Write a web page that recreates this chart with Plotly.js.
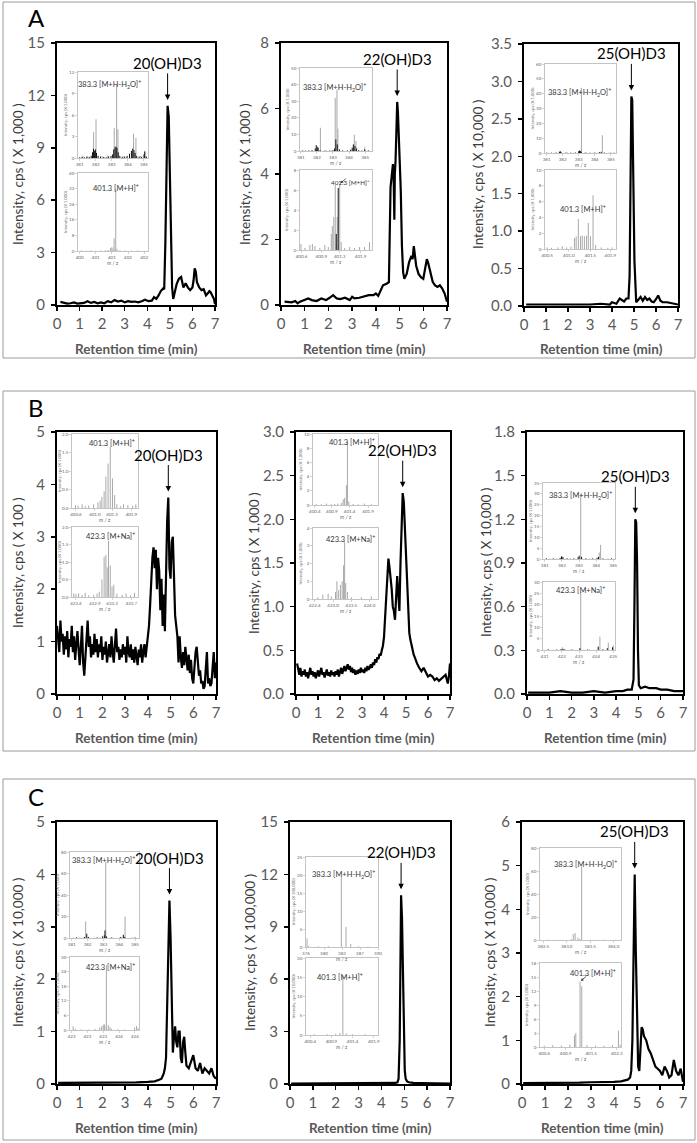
<!DOCTYPE html>
<html><head><meta charset="utf-8">
<script src="https://cdn.plot.ly/plotly-3.0.1.min.js"></script>
<style>html,body{margin:0;padding:0;background:#fff}#chart{width:697px;height:1143px}</style>
</head><body><div id="chart"></div>
<script>
// ---------- chromatogram data (retention time, intensity in axis units) ----------
const tA1=[0.15,0.3,0.45,0.6,0.75,0.9,1.05,1.2,1.35,1.5,1.65,1.8,1.95,2.1,2.25,2.4,2.55,2.7,2.85,3.0,3.15,3.3,3.45,3.6,3.75,3.9,4.05,4.2,4.3,4.4,4.5,4.6,4.7,4.75,4.8,4.85,4.9,4.95,5.0,5.05,5.1,5.15,5.2,5.3,5.4,5.5,5.55,5.6,5.7,5.8,5.9,6.0,6.05,6.1,6.15,6.2,6.3,6.4,6.5,6.6,6.7,6.75,6.8,6.9,6.95,7.0];
const yA1=[0.18,0.12,0.08,0.1,0.15,0.08,0.1,0.12,0.22,0.12,0.18,0.1,0.15,0.1,0.22,0.15,0.28,0.2,0.25,0.15,0.22,0.18,0.2,0.15,0.22,0.3,0.22,0.25,0.45,0.35,0.55,0.8,0.95,0.9,3.5,8.5,11.4,10.8,7.5,3.2,1.0,0.35,0.6,1.2,1.5,1.6,1.3,1.0,1.25,1.0,0.85,1.0,1.4,2.1,1.9,1.3,1.0,0.85,0.9,0.55,0.7,0.8,0.75,0.45,0.35,0.05];
const tA2=[0.15,0.3,0.45,0.6,0.7,0.8,1.0,1.15,1.3,1.5,1.7,1.9,2.05,2.2,2.35,2.5,2.7,2.9,3.0,3.1,3.3,3.5,3.7,3.9,4.0,4.1,4.2,4.3,4.45,4.55,4.62,4.68,4.72,4.75,4.78,4.8,4.83,4.87,4.9,4.93,4.97,5.0,5.05,5.1,5.15,5.2,5.3,5.4,5.5,5.55,5.6,5.65,5.7,5.8,5.9,6.0,6.1,6.15,6.2,6.3,6.4,6.5,6.6,6.7,6.8,6.9,6.95,7.0];
const yA2=[0.1,0.1,0.08,0.12,0.05,0.1,0.15,0.2,0.15,0.12,0.2,0.15,0.22,0.3,0.2,0.18,0.22,0.15,0.25,0.2,0.22,0.25,0.3,0.3,0.35,0.28,0.45,0.6,0.65,0.7,3.6,4.2,4.3,3.9,2.6,4.0,4.4,5.4,6.2,5.9,5.1,4.9,3.5,1.8,1.0,0.8,0.95,1.3,1.5,1.4,1.8,1.5,1.2,0.95,0.85,0.8,1.2,1.4,1.3,1.0,0.7,0.6,0.55,0.6,0.5,0.35,0.25,0.1];
const tA3=[0.1,0.5,1.0,1.5,2.0,2.5,3.0,3.5,3.9,4.0,4.1,4.2,4.35,4.45,4.55,4.65,4.75,4.8,4.85,4.88,4.92,4.97,5.02,5.1,5.2,5.3,5.4,5.5,5.6,5.7,5.8,5.9,6.0,6.1,6.2,6.3,6.5,6.7,6.9,7.0];
const yA3=[0.02,0.02,0.02,0.02,0.01,0.02,0.02,0.03,0.02,0.05,0.04,0.03,0.1,0.08,0.06,0.1,0.1,0.4,1.8,2.8,2.75,1.8,0.6,0.05,0.08,0.12,0.07,0.12,0.08,0.1,0.06,0.05,0.09,0.14,0.07,0.05,0.05,0.04,0.03,0.02];
const tB1=[0,0.05,0.1,0.15,0.2,0.25,0.3,0.35,0.4,0.45,0.5,0.55,0.6,0.65,0.7,0.75,0.8,0.85,0.9,0.95,1.0,1.05,1.1,1.15,1.2,1.25,1.3,1.35,1.4,1.45,1.5,1.55,1.6,1.65,1.7,1.75,1.8,1.85,1.9,1.95,2.0,2.05,2.1,2.15,2.2,2.25,2.3,2.35,2.4,2.45,2.5,2.55,2.6,2.65,2.7,2.75,2.8,2.85,2.9,2.95,3.0,3.05,3.1,3.15,3.2,3.25,3.3,3.35,3.4,3.45,3.5,3.55,3.6,3.65,3.7,3.75,3.8,3.85,3.9,3.95,4.0,4.05,4.1,4.15,4.2,4.25,4.3,4.35,4.4,4.45,4.5,4.55,4.6,4.65,4.7,4.75,4.8,4.85,4.9,4.95,5.0,5.05,5.1,5.15,5.2,5.25,5.3,5.35,5.4,5.45,5.5,5.55,5.6,5.65,5.7,5.75,5.8,5.85,5.9,5.95,6.0,6.05,6.1,6.15,6.2,6.25,6.3,6.35,6.4,6.45,6.5,6.55,6.6,6.65,6.7,6.75,6.8,6.85,6.9,6.95,7.0];
const yB1=[1.30,1.05,0.80,1.40,1.00,1.15,0.75,1.10,0.85,1.20,0.70,1.05,0.90,1.30,0.80,1.10,0.65,0.95,1.20,0.85,
0.55,0.90,1.30,0.60,0.35,0.70,1.00,1.40,0.90,1.10,0.70,0.95,0.75,1.15,0.80,1.05,0.70,0.95,0.80,1.10,
0.65,0.90,0.75,1.00,0.60,0.85,0.95,0.70,1.10,0.80,0.60,0.95,1.25,0.80,0.90,0.65,0.85,0.70,0.95,0.75,
0.90,0.60,1.10,0.80,0.70,0.95,0.65,0.85,0.60,0.90,0.75,0.55,0.85,0.70,0.95,0.60,0.80,0.95,0.70,0.90,
1.10,1.30,1.70,2.20,2.60,2.80,2.40,2.75,2.00,2.60,2.35,1.60,2.20,1.30,1.90,1.20,2.30,3.30,3.75,2.40,
2.20,2.90,3.00,2.20,1.50,1.30,1.10,0.60,1.10,0.70,0.50,0.80,0.55,0.90,0.60,0.45,0.75,0.40,0.65,0.30,
0.20,0.55,0.80,0.90,0.50,0.35,0.45,0.20,0.25,0.10,0.15,0.45,0.80,0.20,0.30,0.15,0.20,0.50,0.80,0.30,0.60];
const tB2=[0.05,0.1,0.15,0.2,0.25,0.3,0.35,0.4,0.45,0.5,0.55,0.6,0.65,0.7,0.75,0.8,0.85,0.9,0.95,1.0,1.05,1.1,1.15,1.2,1.25,1.3,1.35,1.4,1.45,1.5,1.55,1.6,1.65,1.7,1.75,1.8,1.85,1.9,1.95,2.0,2.05,2.1,2.15,2.2,2.25,2.3,2.35,2.4,2.45,2.5,2.55,2.6,2.65,2.7,2.75,2.8,2.85,2.9,2.95,3.0,3.05,3.1,3.15,3.2,3.25,3.3,3.35,3.4,3.45,3.5,3.55,3.6,3.65,3.7,3.75,3.8,3.85,3.9,3.95,4.0,4.05,4.1,4.15,4.2,4.25,4.3,4.35,4.4,4.45,4.5,4.55,4.6,4.65,4.7,4.75,4.8,4.85,4.9,4.95,5.0,5.05,5.1,5.15,5.2,5.25,5.3,5.35,5.4,5.45,5.5,5.6,5.7,5.8,5.9,6.0,6.1,6.2,6.3,6.4,6.5,6.6,6.7,6.8,6.9,6.95,7.0];
const yB2=[0.35,0.28,0.22,0.3,0.2,0.26,0.22,0.28,0.2,0.25,0.18,0.24,0.3,0.22,0.26,0.2,0.25,0.18,0.22,0.27,
0.2,0.24,0.3,0.22,0.25,0.19,0.24,0.28,0.21,0.25,0.2,0.27,0.22,0.25,0.2,0.26,0.22,0.28,0.2,0.25,
0.3,0.23,0.28,0.32,0.26,0.3,0.34,0.28,0.32,0.25,0.3,0.24,0.28,0.22,0.27,0.23,0.28,0.24,0.3,0.25,
0.28,0.24,0.3,0.26,0.32,0.28,0.3,0.34,0.3,0.36,0.33,0.4,0.36,0.42,0.4,0.46,0.44,0.5,0.55,0.65,
0.9,1.2,1.45,1.55,1.45,1.35,1.2,1.0,0.95,0.85,1.2,1.35,1.15,0.95,1.5,2.1,2.3,2.2,1.9,1.6,
1.2,0.85,0.7,0.62,0.55,0.5,0.45,0.42,0.38,0.35,0.3,0.26,0.3,0.24,0.2,0.22,0.2,0.16,0.18,0.15,
0.17,0.2,0.22,0.12,0.2,0.35];
const tB3=[0.05,0.5,1.0,1.5,2.0,2.5,3.0,3.5,4.0,4.3,4.5,4.7,4.78,4.82,4.86,4.9,4.94,4.98,5.02,5.1,5.3,5.5,5.8,6.0,6.3,6.6,7.0];
const yB3=[0.01,0.01,0.01,0.02,0.01,0.01,0.02,0.01,0.02,0.02,0.03,0.03,0.1,0.6,1.2,1.18,0.9,0.3,0.06,0.04,0.05,0.04,0.04,0.03,0.03,0.02,0.02];
const tC1=[0.05,0.5,1.0,1.5,2.0,2.5,3.0,3.5,4.0,4.3,4.5,4.6,4.7,4.75,4.8,4.85,4.9,4.95,5.0,5.05,5.1,5.15,5.2,5.25,5.3,5.35,5.4,5.45,5.5,5.55,5.6,5.65,5.7,5.8,5.9,6.0,6.1,6.2,6.3,6.4,6.5,6.6,6.7,6.8,6.9,7.0];
const yC1=[0.02,0.02,0.03,0.02,0.03,0.02,0.03,0.03,0.04,0.05,0.08,0.1,0.2,0.3,0.5,1.5,3.0,3.5,2.8,1.5,0.6,0.9,1.1,0.8,0.7,1.0,1.0,0.5,0.4,0.8,0.9,0.6,0.35,0.3,0.45,0.55,0.3,0.25,0.4,0.2,0.3,0.25,0.2,0.3,0.15,0.1];
const tC2=[0.05,0.5,1.0,1.5,2.0,2.5,3.0,3.5,4.0,4.4,4.6,4.7,4.75,4.8,4.83,4.86,4.9,4.94,4.98,5.02,5.06,5.12,5.2,5.4,5.7,6.0,6.5,7.0];
const yC2=[0.02,0.02,0.02,0.02,0.02,0.02,0.02,0.02,0.03,0.04,0.06,0.1,0.3,2.5,8.0,10.8,9.5,6.0,2.5,0.8,0.3,0.15,0.1,0.06,0.05,0.04,0.03,0.03];
const tC3=[0.05,0.5,1.0,1.5,2.0,2.5,3.0,3.5,4.0,4.3,4.5,4.6,4.7,4.75,4.8,4.85,4.9,4.95,5.0,5.05,5.1,5.15,5.2,5.25,5.3,5.4,5.5,5.6,5.7,5.8,5.9,6.0,6.1,6.2,6.3,6.4,6.5,6.6,6.7,6.8,6.9,7.0];
const yC3=[0.02,0.02,0.03,0.02,0.03,0.03,0.04,0.04,0.05,0.06,0.08,0.1,0.15,0.3,1.0,3.5,4.8,3.0,1.2,0.4,0.3,0.7,1.3,1.25,1.1,1.0,0.8,0.7,0.55,0.4,0.35,0.3,0.2,0.4,0.3,0.15,0.2,0.55,0.3,0.2,0.35,0.05];

// ---------- labels ----------
const compounds=['20(OH)D3','22(OH)D3','25(OH)D3'];
const yTitles=['Intensity, cps ( X 1,000 )','Intensity, cps ( X 1,000 )','Intensity, cps ( X 10,000 )',
 'Intensity, cps ( X 100 )','Intensity, cps ( X 1,000 )','Intensity, cps ( X 10,000 )',
 'Intensity, cps ( X 10,000 )','Intensity, cps ( X 100,000 )','Intensity, cps ( X 10,000 )'];
const xTitle='Retention time (min)';
const panelLetters=['A','B','C'];
const ION_H2O='383.3 [M+H-H<sub>2</sub>O]<sup>+</sup>', ION_H='401.3 [M+H]<sup>+</sup>', ION_NA='423.3 [M+Na]<sup>+</sup>';
const insetYT='Intensity, cps (X 1,000)', insetYT100k='Intensity, cps (X 100,000)', insetYT10k='Intensity, cps (X 10,000)';

// ---------- inset mass spectra (m/z, intensity) ----------
const mzA1aG=[381.2,381.5,381.87,382.02,382.4,382.75,383.15,383.3,383.38,383.7,384.35,384.5,384.8,385.05];
const inA1aG=[0.3,0.2,3.6,5.4,0.3,0.4,4.2,10.3,4.0,0.3,3.4,2.8,0.3,1.0];
const mzA1aB=[381.0,381.15,381.3,381.45,381.6,381.72,381.8,381.86,381.92,381.98,382.05,382.15,382.3,382.5,382.65,382.8,382.95,383.05,383.12,383.2,383.26,383.32,383.4,383.5,383.65,383.8,383.95,384.1,384.22,384.3,384.38,384.45,384.55,384.7,384.85,385.0,385.05,385.15];
const inA1aB=[0.1,0.15,0.1,0.2,0.15,0.3,0.8,1.3,1.0,1.2,0.7,0.3,0.2,0.15,0.1,0.2,0.3,0.5,1.2,1.5,1.6,1.4,0.8,0.3,0.15,0.2,0.3,0.6,1.0,1.3,1.1,0.7,0.3,0.2,0.15,0.5,0.9,0.2];
const mzA1bG=[400.05,400.2,400.35,400.5,400.65,400.8,400.88,400.96,401.0,401.04,401.07,401.12,401.16,401.25,401.4,401.6,401.8,402.0];
const inA1bG=[0.3,0.2,0.4,0.2,0.3,0.4,0.5,1.5,2.0,1.2,6.5,32,1.0,0.4,0.3,0.2,0.3,0.2];
const mzA2aG=[381.2,381.5,381.96,382.22,382.6,382.9,383.14,383.25,383.31,383.6,383.9,384.33,384.43,384.98,385.2];
const inA2aG=[0.3,0.2,0.8,14,0.3,0.4,32,37,13.5,0.3,0.4,9.8,6,2.5,0.3];
const mzA2aB=[381.1,381.3,381.5,381.7,381.9,381.96,382.02,382.08,382.2,382.5,382.8,383.0,383.1,383.18,383.27,383.4,383.6,383.9,384.1,384.2,384.27,384.37,384.47,384.6,384.8,384.98,385.2];
const inA2aB=[0.3,0.2,0.3,0.5,1.5,3.5,2.5,2.0,0.5,0.3,0.3,0.5,1.5,7,4,1.0,0.3,0.3,0.8,2.0,4,3,1.5,0.5,0.3,1.0,0.3];
const mzA2bG=[400.57,400.65,400.75,400.8,400.85,400.95,401.05,401.12,401.18,401.2,401.23,401.26,401.3,401.35,401.38,401.45,401.55,401.65,401.75,401.85,401.95];
const inA2bG=[0.6,0.2,0.5,0.6,0.4,0.2,0.5,0.3,1.6,2.4,3.3,6.5,3.3,6.6,0.8,0.2,0.3,0.2,0.3,0.3,0.8];
const mzA2bB=[401.28,401.32];
const inA2bB=[1.6,6.2];
const mzA3aG=[381.1,381.5,381.85,382.3,382.7,383.0,383.17,383.5,383.9,384.2,384.47,384.9];
const inA3aG=[0.2,0.2,0.8,0.3,0.2,0.4,44,0.3,0.2,0.3,12,0.2];
const mzA3aB=[381.0,381.3,381.6,381.8,381.85,381.9,382.2,382.5,382.8,383.0,383.05,383.1,383.15,383.4,383.7,384.0,384.3,384.4,384.6,385.0,385.2];
const inA3aB=[0.2,0.2,0.3,0.8,1.2,0.6,0.3,0.2,0.3,1.2,1.6,1.4,0.8,0.3,0.2,0.3,0.6,0.8,0.3,0.2,0.2];
const mzA3bG=[400.5,400.6,400.75,400.85,400.95,401.05,401.13,401.17,401.22,401.27,401.31,401.36,401.41,401.45,401.5,401.56,401.62,401.75,401.9,402.0];
const inA3bG=[0.2,0.15,0.2,0.35,0.2,0.3,1.4,1.6,3.8,1.6,1.7,1.6,1.7,3.3,1.6,6.8,0.5,0.2,0.15,0.2];
const mzB1aG=[400.58,400.64,400.73,400.8,400.88,400.99,401.09,401.14,401.18,401.23,401.27,401.32,401.37,401.42,401.47,401.52,401.6,401.67,401.77,401.88,401.95];
const inB1aG=[0.08,0.06,0.1,0.05,0.07,0.1,0.15,0.2,0.3,0.45,0.85,1.2,1.65,0.8,0.35,0.1,0.05,0.1,0.08,0.06,0.1];
const mzB1bG=[422.34,422.39,422.45,422.53,422.6,422.68,422.79,422.87,422.92,422.98,423.03,423.07,423.1,423.13,423.17,423.21,423.25,423.32,423.44,423.53,423.63,423.72];
const inB1bG=[0.1,0.08,0.1,0.06,0.12,0.05,0.06,0.1,0.15,0.5,1.15,1.2,0.85,1.6,0.9,0.3,0.35,0.1,0.06,0.1,0.05,0.12];
const mzB2aG=[400.44,400.58,400.73,400.87,400.96,401.05,401.15,401.2,401.24,401.29,401.32,401.36,401.48,401.62,401.8,401.99];
const inB2aG=[0.15,0.1,0.2,0.1,0.15,0.2,0.3,0.8,1.0,2.8,9.0,0.5,0.15,0.1,0.2,0.1];
const mzB2bG=[422.49,422.63,422.78,422.87,422.99,423.03,423.08,423.13,423.18,423.22,423.25,423.28,423.33,423.44,423.73,424.01];
const inB2bG=[0.1,0.25,0.3,0.15,0.4,1.0,0.5,0.8,1.0,1.9,3.2,0.9,0.4,0.1,0.1,0.15];
const mzB3aG=[381.3,381.7,382.03,382.5,383.1,383.6,384.18,384.26,384.7];
const inB3aG=[0.2,0.2,1.2,0.3,29.9,0.2,3.0,6.5,0.3];
const mzB3aB=[381.1,381.5,381.9,381.98,382.07,382.3,382.7,382.95,383.01,383.15,383.4,383.8,384.05,384.14,384.4,384.9];
const inB3aB=[0.3,0.3,0.5,1.2,0.8,0.3,0.3,0.8,1.5,1.0,0.3,0.3,0.6,1.0,0.3,0.3];
const mzB3bG=[421.5,422.03,422.5,423.1,423.6,424.22,424.71,425.0];
const inB3bG=[0.2,1.2,0.2,25.6,0.2,5.9,3.3,2.0];
const mzB3bB=[421.2,421.7,421.95,422.07,422.17,422.6,423.05,423.5,424.12,424.4,424.65,424.96];
const inB3bB=[0.3,0.2,0.4,0.5,0.3,0.2,0.8,0.2,1.5,0.3,0.8,1.2];
const mzC1aG=[381.1,381.5,381.88,382.4,382.8,383.15,383.6,384.0,384.37,384.8];
const inC1aG=[0.5,0.4,15.4,0.4,0.5,70.8,0.5,0.4,20,0.5];
const mzC1aB=[381.3,381.8,381.95,382.05,382.6,382.95,383.06,383.1,383.2,383.5,384.1,384.26,384.35,385.0];
const inC1aB=[0.6,1.0,4,1.0,0.5,1.5,2.5,7,1.5,0.5,1.0,3,1.0,0.5];
const mzC1bG=[422.05,422.12,422.3,422.53,422.74,422.89,422.95,423.0,423.03,423.05,423.1,423.16,423.21,423.26,423.47,423.68,423.99,424.05,424.1];
const inC1bG=[1.5,0.5,0.3,0.2,0.4,1.0,1.5,2.0,2.5,1.8,26.6,2.0,1.2,0.5,0.3,0.2,1.0,1.6,0.8];
const mzC2aG=[376.2,376.5,378.4,380.4,382.87,383.78,384.69,386.2,388.1];
const inC2aG=[2.4,0.3,0.2,0.2,19.6,5.6,0.8,0.2,0.1];
const mzC2bG=[400.5,400.8,401.0,401.1,401.17,401.25,401.4,401.7];
const inC2bG=[0.2,0.2,0.3,0.5,15.5,0.4,0.2,0.2];
const mzC3aG=[382.6,382.9,383.1,383.14,383.18,383.24,383.28,383.32,383.5,383.8,384.05];
const inC3aG=[0.3,0.3,0.8,5.2,6.0,2.0,1.0,64,0.3,0.3,0.3];
const mzC3bG=[400.6,400.8,401.0,401.2,401.31,401.34,401.44,401.48,401.6,401.8,402.0,402.2,402.34,402.38];
const inC3bG=[0.3,0.4,0.3,0.5,2.5,3.0,14,13,0.4,0.3,0.3,0.4,3.5,0.5];

// inset tick values / labels
const tv381=[381,382,383,384,385], tt381=['381','382','383','384','385'];
const tv421=[421,422,423,424,425], tt421=['421','422','423','424','425'];
const tvA1b=[400,400.5,401,401.5,402], ttA1b=['400','401','401','402','402'];
const tvA2b=[400.58,400.98,401.35,401.77], ttA2b=['400.6','400.9','401.3','401.9'];
const tvA3b=[400.5,401,401.5,401.96], ttA3b=['400.5','401.0','401.5','401.9'];
const tvB1a=[400.59,401.02,401.41,401.85], ttB1a=['400.6','401.0','401.3','401.9'];
const tvB1b=[422.39,422.82,423.21,423.65], ttB1b=['422.4','422.9','423.3','423.7'];
const tvB2a=[400.4,400.88,401.38,401.9], ttB2a=['400.4','400.9','401.4','401.9'];
const tvB2b=[422.4,422.92,423.44,423.96], ttB2b=['422.4','423.0','423.5','424.0'];
const tvC1b=[422,422.5,423,423.5,424], ttC1b=['422','423','423','424','424'];
const tvC2a=[376,379.5,383,386.5,390], ttC2a=['376','380','383','387','390'];
const tvC2b=[400.4,400.9,401.4,401.9], ttC2b=['400.4','400.9','401.4','401.9'];
const tvC3a=[382.5,383,383.5,384], ttC3a=['382.5','383.0','383.5','384.0'];
const tvC3b=[400.6,401.1,401.7,402.3], ttC3b=['400.6','400.9','401.5','402.3'];

// ---------- layout geometry (pixels) ----------
const W=697,H=1143;
const FONT='Lato, "Open Sans", "DejaVu Sans", sans-serif';
const px=v=>v/W, py=v=>1-v/H;

const mains=[
 {t:tA1,y:yA1,box:[57,215,43,305],yr:[0,15],dt:3,fmt:'',tx:18,ty:349,lab:0},
 {t:tA2,y:yA2,box:[281,447,43,305],yr:[0,8],dt:2,fmt:'',tx:245,ty:349,lab:1},
 {t:tA3,y:yA3,box:[524,678,44,306],yr:[0,3.5],dt:0.5,fmt:'.1f',tx:478,ty:349,lab:2},
 {t:tB1,y:yB1,box:[57,216,432,694],yr:[0,5],dt:1,fmt:'',tx:18,ty:738,lab:0},
 {t:tB2,y:yB2,box:[296,450,432,694],yr:[0,3],dt:0.5,fmt:'.1f',tx:254,ty:738,lab:1},
 {t:tB3,y:yB3,box:[527,683,432,694],yr:[0,1.8],dt:0.3,fmt:'.1f',tx:486,ty:738,lab:2},
 {t:tC1,y:yC1,box:[57,216,822,1084],yr:[0,5],dt:1,fmt:'',tx:18,ty:1128,lab:0},
 {t:tC2,y:yC2,box:[290,450,822,1084],yr:[0,15],dt:3,fmt:'',tx:250,ty:1128,lab:1},
 {t:tC3,y:yC3,box:[522,683,822,1084],yr:[0,6],dt:1,fmt:'',tx:490,ty:1128,lab:2}
];
const insets=[
 {box:[78,148,72,158],xr:[380.9,385.25],tv:tv381,tt:tt381,yr:[0,12],dt:3,fmt:'',g:[mzA1aG,inA1aG],b:[mzA1aB,inA1aB],lab:ION_H2O,lp:[0.93,0.94,'right'],mz:false,yt:insetYT},
 {box:[78,148,173,251],xr:[399.95,402.12],tv:tvA1b,tt:ttA1b,yr:[0,40],dt:8,fmt:'',g:[mzA1bG,inA1bG],lab:ION_H,lp:[0.9,0.9,'right'],mz:true,yt:insetYT},
 {box:[300,372,68,151],xr:[380.95,385.43],tv:tv381,tt:tt381,yr:[0,50],dt:10,fmt:'',g:[mzA2aG,inA2aG],b:[mzA2aB,inA2aB],lab:ION_H2O,lp:[0.95,0.86,'right'],mz:true,yt:insetYT},
 {box:[300,372,170,250],xr:[400.55,402.0],tv:tvA2b,tt:ttA2b,yr:[0,8],dt:2,fmt:'',g:[mzA2bG,inA2bG],b:[mzA2bB,inA2bB],lab:ION_H,lp:[1.0,0.93,'right'],ls:6.3,mz:true,yt:insetYT,arrow:true},
 {box:[545,616,64,153],xr:[380.9,385.32],tv:tv381,tt:tt381,yr:[0,60],dt:10,fmt:'',g:[mzA3aG,inA3aG],b:[mzA3aB,inA3aB],lab:ION_H2O,lp:[0.96,0.76,'right'],mz:true,yt:insetYT},
 {box:[545,616,170,249],xr:[400.45,402.09],tv:tvA3b,tt:ttA3b,yr:[0,10],dt:2,fmt:'',g:[mzA3bG,inA3bG],lab:ION_H,lp:[0.54,0.6,'center'],mz:true,yt:insetYT},
 {box:[72,138,434,508],xr:[400.5,402.0],tv:tvB1a,tt:ttB1a,yr:[0,2],dt:0.5,fmt:'.1f',g:[mzB1aG,inB1aG],lab:ION_H,lp:[0.98,0.97,'right'],mz:true,yt:insetYT},
 {box:[72,138,527,597],xr:[422.3,423.8],tv:tvB1b,tt:ttB1b,yr:[0,2],dt:0.5,fmt:'.1f',g:[mzB1bG,inB1bG],lab:ION_NA,lp:[0.98,0.97,'right'],mz:true,yt:insetYT},
 {box:[313,378,434,505],xr:[400.35,402.18],tv:tvB2a,tt:ttB2a,yr:[0,10],dt:2,fmt:'',g:[mzB2aG,inB2aG],lab:ION_H,lp:[0.99,0.99,'right'],mz:true,yt:insetYT},
 {box:[313,378,528,599],xr:[422.35,424.2],tv:tvB2b,tt:ttB2b,yr:[0,4],dt:1,fmt:'',g:[mzB2bG,inB2bG],lab:ION_NA,lp:[0.98,0.94,'right'],mz:true,yt:insetYT},
 {box:[543,615,483,559],xr:[380.9,385.1],tv:tv381,tt:tt381,yr:[0,35],dt:5,fmt:'',g:[mzB3aG,inB3aG],b:[mzB3aB,inB3aB],lab:ION_H2O,lp:[0.98,0.94,'right'],mz:true,yt:insetYT},
 {box:[543,615,582,650],xr:[420.9,425.1],tv:tv421,tt:tt421,yr:[0,30],dt:5,fmt:'',g:[mzB3bG,inB3bG],b:[mzB3bB,inB3bB],lab:ION_NA,lp:[0.52,0.99,'center'],mz:true,yt:insetYT},
 {box:[70,139,852,938],xr:[380.89,385.25],tv:tv381,tt:tt381,yr:[0,80],dt:20,fmt:'',g:[mzC1aG,inC1aG],b:[mzC1aB,inC1aB],lab:ION_H2O,lp:[0.97,0.99,'right'],mz:true,yt:insetYT},
 {box:[70,139,957,1030],xr:[421.95,424.13],tv:tvC1b,tt:ttC1b,yr:[0,30],dt:6,fmt:'',g:[mzC1bG,inC1bG],lab:ION_NA,lp:[0.97,0.96,'right'],mz:true,yt:insetYT},
 {box:[306,378,857,947],xr:[376,390],tv:tvC2a,tt:ttC2a,yr:[0,25],dt:5,fmt:'',g:[mzC2aG,inC2aG],lab:ION_H2O,lp:[0.98,0.89,'right'],mz:true,yt:insetYT100k},
 {box:[306,378,958,1035],xr:[400.3,402.0],tv:tvC2b,tt:ttC2b,yr:[0,20],dt:5,fmt:'',g:[mzC2bG,inC2bG],lab:ION_H,lp:[0.47,0.84,'center'],mz:true,yt:insetYT10k},
 {box:[540,621,848,940],xr:[382.43,384.16],tv:tvC3a,tt:ttC3a,yr:[0,80],dt:20,fmt:'',g:[mzC3aG,inC3aG],lab:ION_H2O,lp:[0.98,0.9,'right'],mz:true,yt:insetYT},
 {box:[540,621,963,1047],xr:[400.5,402.4],tv:tvC3b,tt:ttC3b,yr:[0,18],dt:3,fmt:'',g:[mzC3bG,inC3bG],lab:ION_H,lp:[0.96,0.96,'right'],mz:true,yt:insetYT,arrow:true}
];
const panelBoxes=[[3,2,695,358],[3,391,695,751],[3,779,695,1140]];
const letterPos=[[36,18],[36,407],[36,796]];

// ---------- build ----------
const data=[];
const layout={width:W,height:H,margin:{l:0,r:0,t:0,b:0},paper_bgcolor:'#fff',plot_bgcolor:'#fff',
  showlegend:false,font:{family:FONT},annotations:[],shapes:[]};
const ids=k=>({xa:'xaxis'+(k===1?'':k),ya:'yaxis'+(k===1?'':k),xs:'x'+(k===1?'':k),ys:'y'+(k===1?'':k)});

panelBoxes.forEach(b=>layout.shapes.push({type:'rect',xref:'paper',yref:'paper',x0:px(b[0]),x1:px(b[2]),y0:py(b[3]),y1:py(b[1]),line:{color:'#9a9a9a',width:1}}));
letterPos.forEach((p,i)=>layout.annotations.push({xref:'paper',yref:'paper',x:px(p[0]),y:py(p[1]),text:panelLetters[i],showarrow:false,font:{size:24,color:'#000',family:FONT},xanchor:'center',yanchor:'middle',borderpad:0}));

mains.forEach((m,i)=>{
  const k=i+1, d=ids(k); const [L,R,T,B]=m.box;
  layout[d.xa]={domain:[px(L),px(R)],range:[0,7],tick0:0,dtick:1,showline:true,mirror:true,linecolor:'#000',linewidth:2,
    ticks:'outside',ticklen:4,tickwidth:1.5,tickcolor:'#000',tickfont:{size:15,color:'#595959',family:FONT},
    showgrid:false,zeroline:false,anchor:d.ys,fixedrange:true};
  layout[d.ya]={domain:[py(B),py(T)],range:m.yr,tick0:0,dtick:m.dt,tickformat:m.fmt,showline:true,mirror:true,linecolor:'#000',linewidth:2,
    ticks:'outside',ticklen:4,tickwidth:1.5,tickcolor:'#000',tickfont:{size:15,color:'#595959',family:FONT},ticklabelstandoff:3,
    showgrid:false,zeroline:false,anchor:d.xs,fixedrange:true};
  data.push({type:'scatter',mode:'lines',x:m.t,y:m.y,xaxis:d.xs,yaxis:d.ys,line:{color:'#000',width:2.2},hoverinfo:'skip'});
  let imax=0; m.y.forEach((v,j)=>{if(v>m.y[imax])imax=j;});
  layout.annotations.push({xref:d.xs,yref:d.ys,x:m.t[imax],y:m.y[imax],yshift:6,text:compounds[m.lab],showarrow:true,
    ax:0,ay:-37,arrowhead:2,arrowsize:1.1,arrowwidth:1,arrowcolor:'#000',standoff:0,font:{size:15,color:'#000',family:FONT}});
  layout.annotations.push({xref:'paper',yref:'paper',x:px(m.tx),y:py((T+B)/2),text:yTitles[i],textangle:-90,showarrow:false,
    font:{size:13.5,color:'#3a3a3a',family:FONT},xanchor:'center',yanchor:'middle'});
  layout.annotations.push({xref:'paper',yref:'paper',x:px((L+R)/2),y:py(m.ty),text:'<b>'+xTitle+'</b>',showarrow:false,
    font:{size:13.5,color:'#595959',family:FONT},xanchor:'center',yanchor:'middle'});
});

function sticks(mz,ints){const x=[],y=[];mz.forEach((v,j)=>{x.push(v,v,null);y.push(0,ints[j],null);});return {x,y};}

insets.forEach((s,i)=>{
  const k=10+i, d=ids(k); const [L,R,T,B]=s.box;
  const ax={showline:true,mirror:true,linecolor:'#b5b5b5',linewidth:0.8,ticks:'outside',ticklen:2,tickwidth:0.6,tickcolor:'#b5b5b5',
    tickfont:{size:4.5,color:'#666',family:FONT},showgrid:false,zeroline:false,fixedrange:true};
  layout[d.xa]=Object.assign({},ax,{domain:[px(L),px(R)],range:s.xr,tickmode:'array',tickvals:s.tv,ticktext:s.tt,tickangle:0,anchor:d.ys});
  layout[d.ya]=Object.assign({},ax,{domain:[py(B),py(T)],range:s.yr,tick0:0,dtick:s.dt,tickformat:s.fmt,anchor:d.xs});
  const g=sticks(s.g[0],s.g[1]);
  data.push({type:'scatter',mode:'lines',x:g.x,y:g.y,xaxis:d.xs,yaxis:d.ys,line:{color:'#a9a9a9',width:1},hoverinfo:'skip'});
  if(s.b){const b=sticks(s.b[0],s.b[1]);
    data.push({type:'scatter',mode:'lines',x:b.x,y:b.y,xaxis:d.xs,yaxis:d.ys,line:{color:'#111',width:1},hoverinfo:'skip'});}
  layout.annotations.push({xref:d.xs+' domain',yref:d.ys+' domain',x:s.lp[0],y:s.lp[1],xanchor:s.lp[2],yanchor:'top',text:s.lab,
    showarrow:false,font:{size:s.ls||7.5,color:'#333',family:FONT}});
  layout.annotations.push({xref:'paper',yref:d.ys+' domain',x:px(L-13),y:0.5,text:s.yt,textangle:-90,showarrow:false,
    font:{size:4.2,color:'#666',family:FONT},xanchor:'center',yanchor:'middle'});
  if(s.mz) layout.annotations.push({xref:d.xs+' domain',yref:'paper',x:0.5,y:py(B+12),text:'m / z',showarrow:false,
    font:{size:5,color:'#666',family:FONT},xanchor:'center',yanchor:'middle'});
  if(s.arrow){let j=0; s.g[1].forEach((v,q)=>{if(v>s.g[1][j])j=q;});
    layout.annotations.push({xref:d.xs,yref:d.ys,x:s.g[0][j],y:s.g[1][j],text:' ',showarrow:true,ax:8,ay:-7,
      arrowhead:2,arrowsize:0.7,arrowwidth:0.8,arrowcolor:'#333',standoff:1,font:{size:2}});}
});

Plotly.newPlot('chart',data,layout,{staticPlot:true,displayModeBar:false});
</script></body></html>
